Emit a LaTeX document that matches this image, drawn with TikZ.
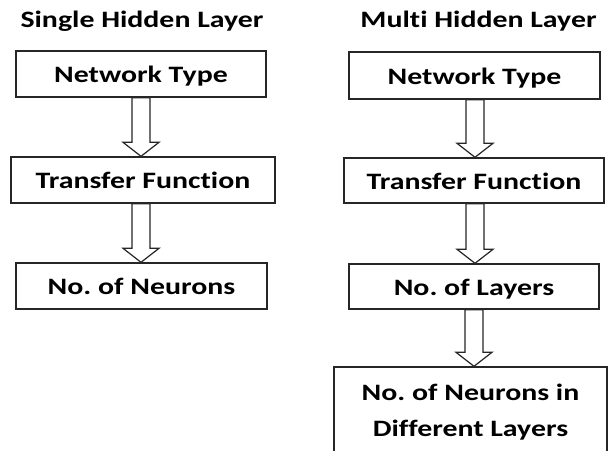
\documentclass[tikz,border=0pt]{standalone}
\usepackage{fontspec}
\setmainfont{Carlito}[FakeStretch=1.27, Ligatures=CommonOff]
\frenchspacing
\usetikzlibrary{calc}
\tikzset{
  box/.style={draw=black!85, line width=1.4pt, fill=white, rectangle, inner sep=0pt,
              font=\fontsize{23.5}{36}\selectfont\bfseries, text=black, align=center},
  oneline/.style={text height=17pt, text depth=0pt},
  heading/.style={font=\fontsize{23.5}{28}\selectfont\bfseries, text=black, inner sep=0pt, anchor=base},
  blockarrow/.style={draw=black!85, line width=1.2pt, fill=white, line join=miter}
}
% hollow block arrow from the bottom of #1 to the top of #2, centred on x = #3
\newcommand{\blockdown}[3]{%
  \draw[blockarrow] let \p1=(#1.south), \p2=(#2.north) in
    ({#3pt-9pt},\y1) -- ({#3pt-9pt},{\y2+14pt}) -- ({#3pt-18pt},{\y2+14pt}) --
    ({#3pt},\y2) -- ({#3pt+18pt},{\y2+14pt}) -- ({#3pt+9pt},{\y2+14pt}) --
    ({#3pt+9pt},\y1) -- cycle;}
\begin{document}
\begin{tikzpicture}[x=1pt,y=-1pt]
  \useasboundingbox (0,0) rectangle (608,450);
  \clip (0,0) rectangle (608,450);
  \fill[white] (0,0) rectangle (608,450);

  % single hidden layer
  \node[heading] (t1) at (142,27) {Single Hidden Layer};
  \node[box, oneline, minimum width=250pt, minimum height=46pt] (a1) at (141,74) {Network Type};
  \node[box, oneline, minimum width=264pt, minimum height=46pt] (a2) at (143,180) {Transfer Function};
  \node[box, oneline, minimum width=251pt, minimum height=46pt] (a3) at (141.5,286) {No. of Neurons};

  % multi hidden layer
  \node[heading] (t2) at (478.5,27) {Multi Hidden Layer};
  \node[box, oneline, minimum width=251pt, minimum height=47pt] (b1) at (474.5,75.5) {Network Type};
  \node[box, oneline, minimum width=260pt, minimum height=45pt] (b2) at (474,180.5) {Transfer Function};
  \node[box, oneline, minimum width=250pt, minimum height=45pt] (b3) at (474,286.5) {No. of Layers};
  \node[box, minimum width=273pt, minimum height=90pt] (b4) at (470.5,412)
       {No. of Neurons in\\Different Layers};

  \blockdown{a1}{a2}{141}
  \blockdown{a2}{a3}{141}
  \blockdown{b1}{b2}{475}
  \blockdown{b2}{b3}{475}
  \blockdown{b3}{b4}{474}
\end{tikzpicture}
\end{document}
